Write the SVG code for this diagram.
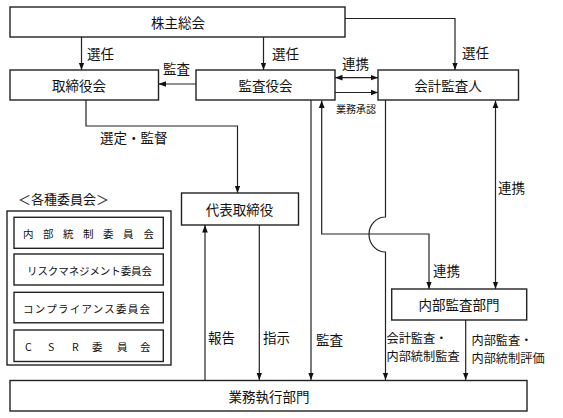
<svg xmlns="http://www.w3.org/2000/svg" width="563" height="418" viewBox="0 0 563 418">
<style>
.box{fill:#fff;stroke:#222;stroke-width:1.4}
.ln{fill:none;stroke:#222;stroke-width:1.2}
text{font-family:"Noto Sans CJK JP","Noto Sans CJK SC",sans-serif;fill:#111}
.t{font-size:13.5px;text-anchor:middle;dominant-baseline:central}
.l{font-size:13.5px;dominant-baseline:central}
.m{font-size:12.2px;dominant-baseline:central}
.s{font-size:10.5px;dominant-baseline:central}
</style>
<defs>
<marker id="a" viewBox="0 0 10 10" refX="10" refY="5" markerWidth="7.5" markerHeight="7.5" orient="auto-start-reverse" markerUnits="userSpaceOnUse">
<path d="M0,1.2 L10,5 L0,8.8 z" fill="#111"/>
</marker>
</defs>
<rect width="563" height="418" fill="#fff"/>
<g id="connectors">
<path class="ln" d="M81.5,37 V70" marker-end="url(#a)"/>
<path class="ln" d="M263.5,37 V70" marker-end="url(#a)"/>
<path class="ln" d="M345,18.5 H455 V70" marker-end="url(#a)"/>
<path class="ln" d="M196,84 H158.5" marker-end="url(#a)"/>
<path class="ln" d="M335,77.7 H378" marker-start="url(#a)" marker-end="url(#a)"/>
<path class="ln" d="M335,92.5 H378" marker-end="url(#a)"/>
<path class="ln" d="M86,100 V126 H237.5 V193" marker-end="url(#a)"/>
<path class="ln" d="M321.7,100.5 V234 H429 V289" marker-start="url(#a)" marker-end="url(#a)"/>
<path class="ln" d="M311,100 V380" marker-end="url(#a)"/>
<path class="ln" d="M385.5,100 V217 A16.5,17.5 0 0 0 385.5,252 V380" marker-end="url(#a)"/>
<path class="ln" d="M495.5,100.5 V289" marker-start="url(#a)" marker-end="url(#a)"/>
<path class="ln" d="M205,380 V225" marker-end="url(#a)"/>
<path class="ln" d="M259.3,225 V380" marker-end="url(#a)"/>
<path class="ln" d="M465.7,320 V380" marker-end="url(#a)"/>
<text class="l" x="87" y="53">選任</text>
<text class="l" x="272" y="53">選任</text>
<text class="l" x="462" y="52">選任</text>
<text class="l" x="163" y="68">監査</text>
<text class="l" x="342" y="63">連携</text>
<text class="s" x="336" y="108" style="font-size:10px">業務承認</text>
<text class="l" x="100" y="137">選定・監督</text>
<text class="l" x="498" y="187">連携</text>
<text class="l" x="433" y="270">連携</text>
<text class="l" x="208" y="337">報告</text>
<text class="l" x="263" y="337">指示</text>
<text class="l" x="316" y="339">監査</text>
<text class="m" x="386.5" y="337.5">会計監査・</text>
<text class="m" x="386.5" y="355.5">内部統制監査</text>
<text class="m" x="471.5" y="340">内部監査・</text>
<text class="m" x="471.5" y="358">内部統制評価</text>
</g>
<g id="n-shareholders"><rect class="box" x="10" y="7" width="335" height="30"/><text class="t" x="178" y="22">株主総会</text></g>
<g id="n-board"><rect class="box" x="10" y="70" width="148.5" height="30"/><text class="t" x="79" y="85">取締役会</text></g>
<g id="n-auditboard"><rect class="box" x="196" y="70" width="139" height="30"/><text class="t" x="265.5" y="85">監査役会</text></g>
<g id="n-accountant"><rect class="box" x="378" y="70" width="140.5" height="30"/><text class="t" x="448" y="85">会計監査人</text></g>
<g id="n-representative"><rect class="box" x="181.5" y="193" width="117" height="32"/><text class="t" x="239.5" y="209">代表取締役</text></g>
<g id="n-internalaudit"><rect class="box" x="391.7" y="289" width="135" height="31"/><text class="t" x="459" y="304">内部監査部門</text></g>
<g id="n-operations"><rect class="box" x="10" y="380.5" width="517" height="30.5"/><text class="t" x="269" y="396">業務執行部門</text></g>
<g id="n-committees">
<text class="l" x="18" y="198" style="font-size:13px">＜各種委員会＞</text>
<rect class="box" x="7" y="211" width="164" height="154"/>
<rect class="box" x="14" y="217.3" width="149.3" height="31"/>
<text class="s" x="23 43 63 83 103 123 143.5" y="233">内部統制委員会</text>
<rect class="box" x="14" y="254" width="149.3" height="31"/>
<text class="s" x="27" y="270" textLength="125" lengthAdjust="spacing">リスクマネジメント委員会</text>
<rect class="box" x="14" y="292.3" width="149.3" height="30.5"/>
<text class="s" x="23" y="308" textLength="127" lengthAdjust="spacing">コンプライアンス委員会</text>
<rect class="box" x="14" y="330" width="149.3" height="31.5"/>
<text class="s" x="25 48 72 92 117 140" y="346">CSR委員会</text>
</g>
</svg>
